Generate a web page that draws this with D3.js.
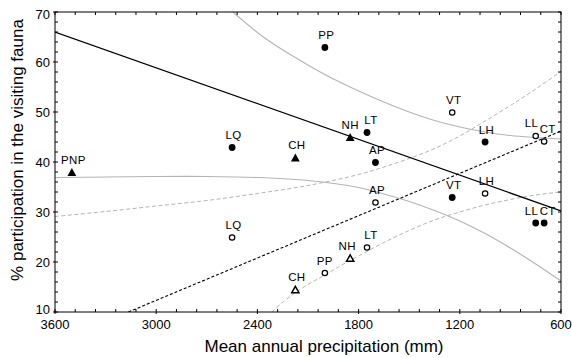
<!DOCTYPE html>
<html><head><meta charset="utf-8">
<script src="https://cdn.jsdelivr.net/npm/d3@7"></script>
<style>
body{margin:0;background:#fff}
svg{display:block}
text{font-family:Arial,"Liberation Sans",Helvetica,sans-serif;fill:#000}
</style>
</head><body>
<svg id="c" width="572" height="358"></svg>
<script>
// ---- data ----
const sites      = ["PNP","LQ","CH","PP","NH","LT","AP","VT","LH","LL","CT"];
const precip     = [3500, 2550, 2175, 2000, 1850, 1750, 1700, 1245, 1050, 750, 700];
const filledVals = [38, 42.9, 40.9, 62.9, 45, 45.9, 39.9, 32.9, 44, 27.8, 27.8];
const openVals   = [null, 24.9, 14.5, 17.8, 20.8, 22.9, 31.9, 49.9, 33.7, 45.2, 44.1];
const triangleSites = ["PNP","CH","NH"];

const xTickLabels = [3600, 3000, 2400, 1800, 1200, 600];
const yTickLabels = [10, 20, 30, 40, 50, 60, 70];

// regression lines (end points)
const fitFilledX = [3600, 600];
const fitFilledY = [66, 30.2];
const fitOpenX   = [3165, 600];
const fitOpenY   = [10, 46.2];

// confidence bands
const bandFilledUpperX = [2545, 2400, 2300, 2200, 2100, 2000, 1900, 1800, 1650, 1500, 1350, 1200, 1050, 900, 750, 600];
const bandFilledUpperY = [70, 65.9, 63.5, 61.4, 59.4, 57.5, 55.8, 54.2, 52.0, 50.0, 48.3, 47.0, 46.0, 45.3, 44.9, 44.6];
const bandFilledLowerX = [3600, 3300, 3000, 2700, 2400, 2100, 1800, 1650, 1500, 1350, 1200, 1050, 900, 750, 600];
const bandFilledLowerY = [36.9, 37.0, 37.1, 37.1, 36.9, 36.3, 34.9, 33.6, 32.1, 30.3, 28.2, 25.7, 22.8, 19.6, 16.2];
const bandOpenUpperX = [3600, 3300, 3000, 2700, 2400, 2100, 1800, 1650, 1500, 1350, 1200, 1050, 900, 750, 600];
const bandOpenUpperY = [29.1, 30.1, 31.2, 32.3, 33.7, 35.3, 37.5, 39.0, 40.7, 42.7, 45.2, 48.2, 51.3, 54.6, 58.1];
const bandOpenLowerX = [2315, 2200, 2100, 2000, 1900, 1800, 1650, 1500, 1350, 1200, 1050, 900, 750, 600];
const bandOpenLowerY = [10, 13.3, 15.5, 17.4, 19.4, 21.2, 23.9, 26.3, 28.4, 30.0, 31.4, 32.5, 33.4, 34.0];

// ---- layout ----
const L = 55, R = 561, T = 12, B = 312;
const svg = d3.select("#c");
const x = d3.scaleLinear().domain([3600, 600]).range([L, R]);
const y = d3.scaleLinear().domain([10, 70]).range([B, T]);

const defs = svg.append("defs");
defs.append("clipPath").attr("id","plot").append("rect")
  .attr("x", L).attr("y", T).attr("width", R - L).attr("height", B - T);

const g = svg.append("g").attr("clip-path","url(#plot)");
const zip = (xs, ys) => xs.map((v, i) => [v, ys[i]]);
const curve = d3.line().x(d => x(d[0])).y(d => y(d[1])).curve(d3.curveCatmullRom.alpha(0.5));
const straight = d3.line().x(d => x(d[0])).y(d => y(d[1]));
const asc = a => a.slice().sort((p, q) => x(p[0]) - x(q[0]));

const GREY = "#b4b4b4";
g.append("path").attr("d", curve(asc(zip(bandFilledUpperX, bandFilledUpperY))))
  .attr("fill","none").attr("stroke",GREY).attr("stroke-width",1.1);
g.append("path").attr("d", curve(asc(zip(bandFilledLowerX, bandFilledLowerY))))
  .attr("fill","none").attr("stroke",GREY).attr("stroke-width",1.1);
g.append("path").attr("d", curve(asc(zip(bandOpenUpperX, bandOpenUpperY))))
  .attr("fill","none").attr("stroke",GREY).attr("stroke-width",1).attr("stroke-dasharray","4,2.5");
g.append("path").attr("d", curve(asc(zip(bandOpenLowerX, bandOpenLowerY))))
  .attr("fill","none").attr("stroke",GREY).attr("stroke-width",1).attr("stroke-dasharray","4,2.5");

g.append("path").attr("d", straight(zip(fitFilledX, fitFilledY)))
  .attr("fill","none").attr("stroke","#000").attr("stroke-width",1.2);
g.append("path").attr("d", straight(zip(fitOpenX, fitOpenY)))
  .attr("fill","none").attr("stroke","#000").attr("stroke-width",1.1).attr("stroke-dasharray","3,2");

// ---- markers ----
const pts = [];
sites.forEach((s, i) => {
  if (filledVals[i] != null) pts.push({s, px: precip[i], v: filledVals[i], filled: true});
  if (openVals[i] != null) pts.push({s, px: precip[i], v: openVals[i], filled: false});
});
const tri = (cx, cy, hw, hh) => `M${cx},${cy - hh}L${cx + hw},${cy + hh}L${cx - hw},${cy + hh}Z`;
const mk = svg.append("g");
pts.forEach(p => {
  const cx = x(p.px), cy = y(p.v);
  const isTri = triangleSites.includes(p.s);
  if (isTri) {
    if (p.filled) mk.append("path").attr("d", tri(cx, cy, 4.4, 4)).attr("fill","#000");
    else mk.append("path").attr("d", tri(cx, cy, 3.6, 3.2)).attr("fill","#fff").attr("stroke","#000").attr("stroke-width",1.5).attr("stroke-linejoin","miter");
  } else {
    if (p.filled) mk.append("circle").attr("cx",cx).attr("cy",cy).attr("r",3.4).attr("fill","#000");
    else mk.append("circle").attr("cx",cx).attr("cy",cy).attr("r",2.7).attr("fill","#fff").attr("stroke","#000").attr("stroke-width",1.2);
  }
});

// label nudges
const nudge = {LL: -4.2, CT: 3.6, LT: 4, NH: 0, PP: 1.5};
pts.forEach(p => {
  let dx = (p.s in nudge) ? nudge[p.s] : 1.5;
  if (p.s === "NH" && !p.filled) dx = -3;
  if (p.s === "PP" && !p.filled) dx = 0;
  let dy = -8.5;
  if (p.s === "LL" && p.filled === false) dy = -9.2;
  svg.append("text").attr("x", x(p.px) + dx).attr("y", y(p.v) + dy)
    .attr("text-anchor","middle").attr("font-size", 11.5).attr("letter-spacing", 0.4).text(p.s);
});

// ---- frame & ticks ----
const ax = svg.append("g").attr("stroke","#000").attr("stroke-width",1);
ax.append("rect").attr("x",L).attr("y",T).attr("width",R-L).attr("height",B-T).attr("fill","none");
const xMinor = d3.range(600, 3601, 120);
const yMinor = d3.range(10, 70.01, 2);
xMinor.forEach(v => {
  const X = x(v);
  ax.append("line").attr("x1",X).attr("x2",X).attr("y1",B).attr("y2",B-3);
  ax.append("line").attr("x1",X).attr("x2",X).attr("y1",T).attr("y2",T+3);
});
yMinor.forEach(v => {
  const Y = y(v);
  ax.append("line").attr("x1",L).attr("x2",L+3).attr("y1",Y).attr("y2",Y);
  ax.append("line").attr("x1",R).attr("x2",R-3).attr("y1",Y).attr("y2",Y);
});
yTickLabels.forEach(v => {
  const Y = y(v);
  ax.append("line").attr("x1",L-2).attr("x2",L).attr("y1",Y).attr("y2",Y);
});
xTickLabels.forEach(v => {
  const X = x(v);
  ax.append("line").attr("x1",X).attr("x2",X).attr("y1",B).attr("y2",B+2);
});

// tick labels
xTickLabels.forEach(v => {
  svg.append("text").attr("x", x(v)).attr("y", 328.5).attr("text-anchor","middle")
    .attr("font-size", 13).text(v);
});
yTickLabels.forEach(v => {
  const cy = Math.min(Math.max(y(v), 14.5), 309);
  svg.append("text").attr("x", 50).attr("y", cy).attr("dy","0.35em").attr("text-anchor","end")
    .attr("font-size", 13).text(v);
});

// axis titles
svg.append("text").attr("x", 324).attr("y", 351.5).attr("text-anchor","middle")
  .attr("font-size", 17).text("Mean annual precipitation (mm)");
svg.append("text").attr("transform","translate(23,150) rotate(-90)").attr("text-anchor","middle")
  .attr("font-size", 17).text("% participation in the visiting fauna");
</script>
</body></html>
